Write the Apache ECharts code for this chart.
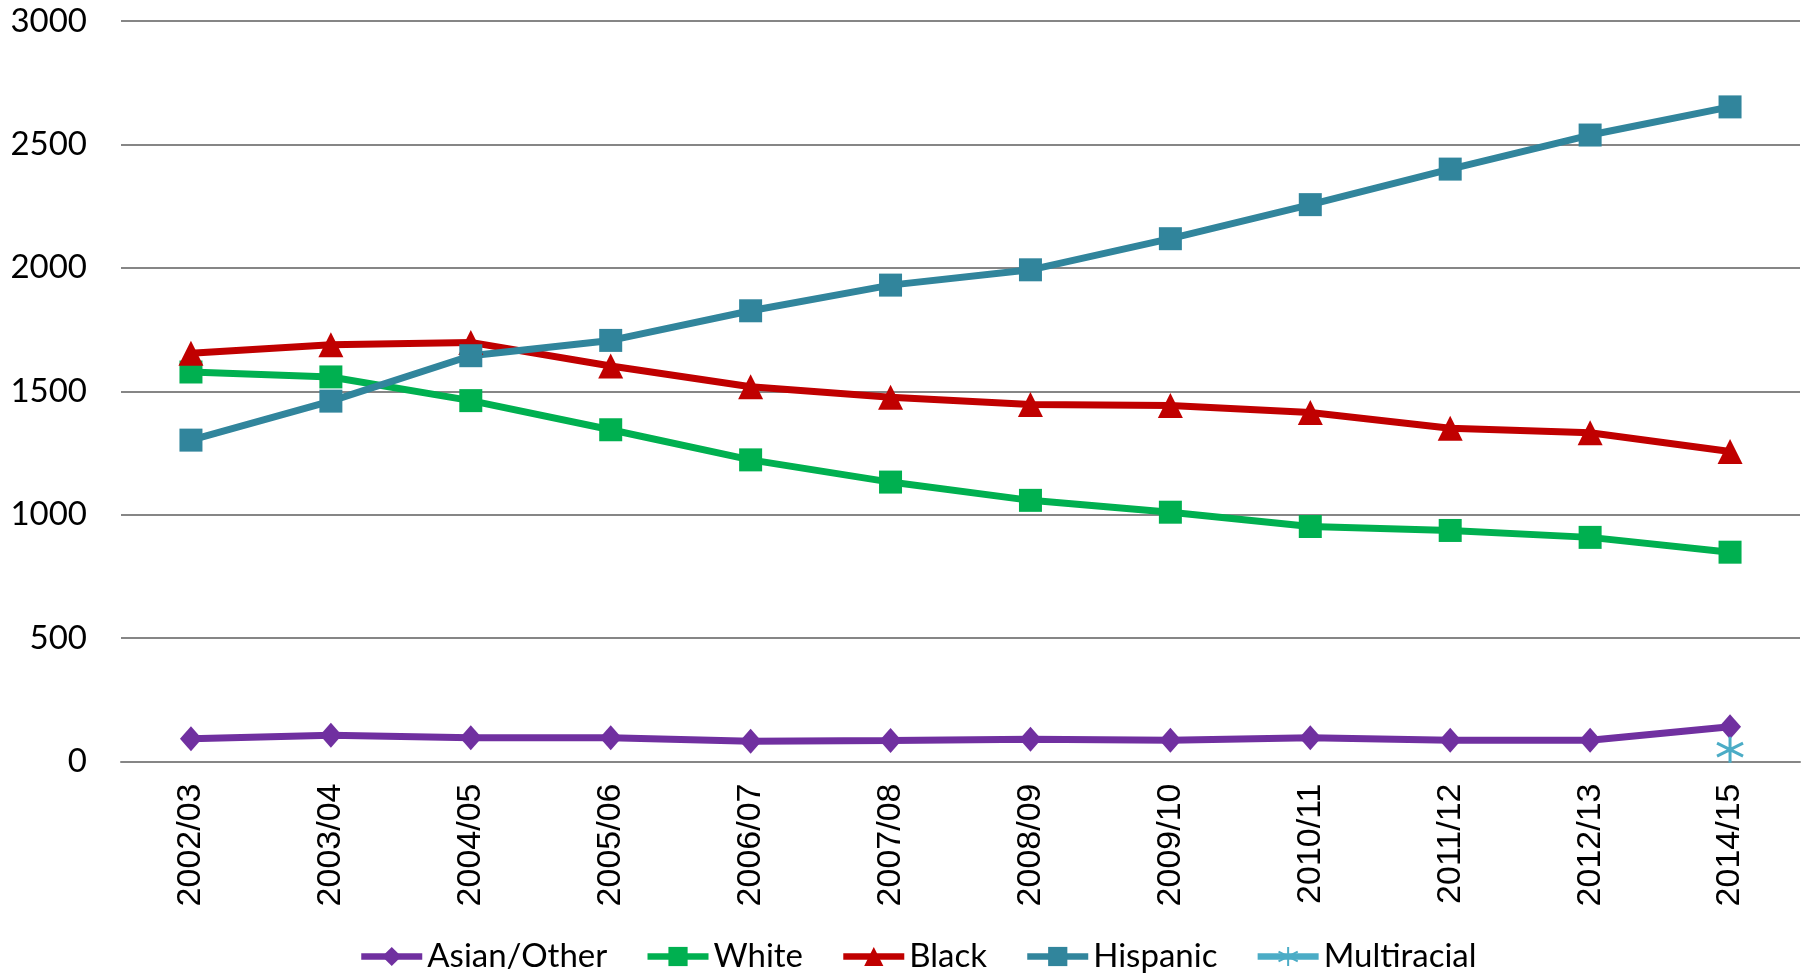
<!DOCTYPE html>
<html>
<head>
<meta charset="utf-8">
<script src="https://cdn.jsdelivr.net/npm/echarts@6/dist/echarts.min.js"></script>
<style>
html,body{margin:0;padding:0;background:#fff;}
#c{width:1812px;height:980px;}
</style>
</head>
<body>
<div id="c"></div>
<script>
const categories = ['2002/03','2003/04','2004/05','2005/06','2006/07','2007/08','2008/09','2009/10','2010/11','2011/12','2012/13','2014/15'];
const asianOther = [92, 106, 96, 96, 82, 85, 90, 86, 96, 86, 86, 141];
const white = [1578, 1558, 1462, 1344, 1222, 1132, 1058, 1010, 952, 936, 908, 848];
const black = [1654, 1688, 1698, 1602, 1518, 1476, 1446, 1442, 1414, 1350, 1332, 1256];
const hispanic = [1302, 1460, 1644, 1706, 1826, 1930, 1992, 2118, 2256, 2400, 2538, 2652];
const multiracial = [null, null, null, null, null, null, null, null, null, null, null, 48];
const yTicks = {min: 0, max: 3000, interval: 500};

const chart = echarts.init(document.getElementById('c'));
const labelFont = 'Lato';
const asterisk = 'path://M10,0L10,20M1.34,5L18.66,15M1.34,15L18.66,5';

function lineSeries(name, data, color, symbol, size) {
  return {
    name: name, type: 'line', data: data,
    symbol: symbol, symbolSize: size,
    lineStyle: {color: color, width: 7},
    itemStyle: {color: color},
    emphasis: {disabled: true},
    animation: false
  };
}

chart.setOption({
  backgroundColor: '#ffffff',
  animation: false,
  grid: {left: 121, right: 12, top: 21, bottom: 218.5, containLabel: false},
  legend: {
    bottom: 2, left: 353,
    itemWidth: 61, itemHeight: 24, itemGap: 37,
    lineStyle: {width: 6.5},
    textStyle: {fontFamily: labelFont, fontSize: 33, color: '#000'},
    data: ['Asian/Other','White','Black','Hispanic','Multiracial']
  },
  xAxis: {
    type: 'category', data: categories, boundaryGap: true,
    axisLine: {show: true, lineStyle: {color: '#868686', width: 2}},
    axisTick: {show: false},
    axisLabel: {rotate: 90, margin: 22, fontFamily: 'Liberation Sans', fontSize: 34, color: '#000', interval: 0}
  },
  yAxis: {
    type: 'value', min: yTicks.min, max: yTicks.max, interval: yTicks.interval,
    axisLine: {show: false}, axisTick: {show: false},
    splitLine: {lineStyle: {color: '#868686', width: 2}},
    axisLabel: {margin: 34, fontFamily: labelFont, fontSize: 33, color: '#000', formatter: function (v) { return String(v); }}
  },
  series: [
    lineSeries('Asian/Other', asianOther, '#7030A0', 'diamond', [22, 25]),
    lineSeries('White', white, '#00B050', 'rect', 23),
    lineSeries('Black', black, '#C00000', 'triangle', 25),
    lineSeries('Hispanic', hispanic, '#31859C', 'rect', 23),
    {
      name: 'Multiracial', type: 'line', data: multiracial,
      symbol: asterisk, symbolSize: 26,
      lineStyle: {color: '#4BACC6', width: 7},
      itemStyle: {color: 'rgba(0,0,0,0)', borderColor: '#4BACC6', borderWidth: 3},
      emphasis: {disabled: true}
    }
  ]
});
</script>
</body>
</html>
